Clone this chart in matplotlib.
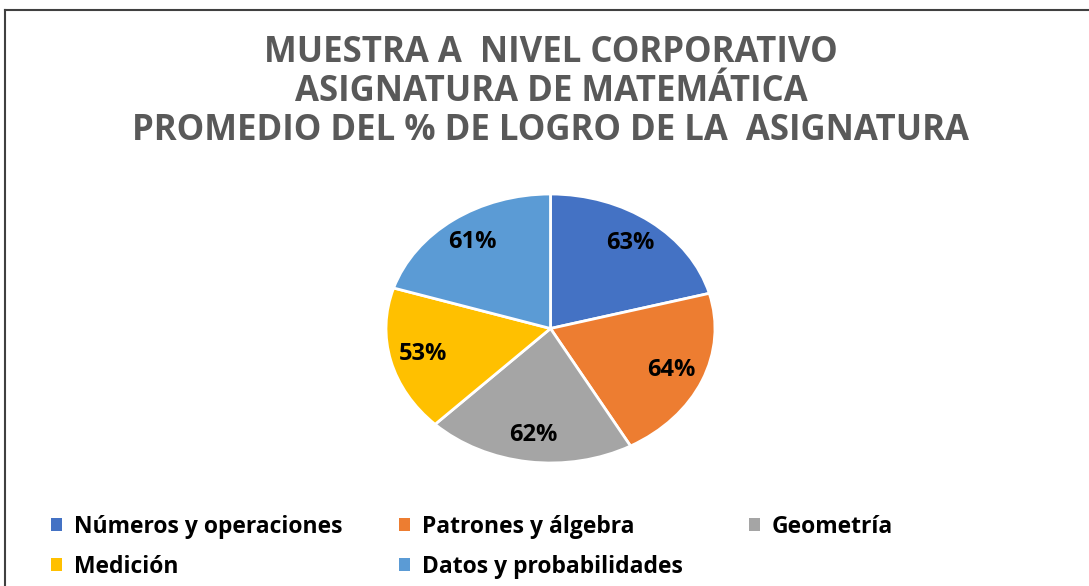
import matplotlib.pyplot as plt
from matplotlib.lines import Line2D

categories = [
    "Números y operaciones",
    "Patrones y álgebra",
    "Geometría",
    "Medición",
    "Datos y probabilidades",
]
logro = [63, 64, 62, 53, 61]
colores = ["#4472C4", "#ED7D31", "#A5A5A5", "#FFC000", "#5B9BD5"]

titulo = (
    "MUESTRA A  NIVEL CORPORATIVO\n"
    "ASIGNATURA DE MATEMÁTICA\n"
    "PROMEDIO DEL % DE LOGRO DE LA  ASIGNATURA"
)

W, H = 1089, 586
fig = plt.figure(figsize=(W / 100, H / 100), dpi=100)
fig.patch.set_facecolor("white")

# marco (solo izquierda y arriba visibles)
fig.add_artist(Line2D([5 / W, 5 / W], [0, 1 - 10 / H], color="#404040", lw=1.5,
                      transform=fig.transFigure))
fig.add_artist(Line2D([5 / W, 1], [1 - 10 / H, 1 - 10 / H], color="#404040", lw=1.5,
                      transform=fig.transFigure))

fig.text(551 / W, 1 - 92 / H, titulo, ha="center", va="center",
         fontsize=25, fontweight="bold", color="#595959",
         family="Open Sans", linespacing=1.12)

# pastel algo achatado, como en el original
left, right, top, bottom = 386, 715, 194, 463
ax = fig.add_axes([left / W, 1 - bottom / H, (right - left) / W, (bottom - top) / H])
total = sum(logro)
wedges, texts, autotexts = ax.pie(
    logro,
    colors=colores,
    startangle=90,
    counterclock=False,
    autopct=lambda p: f"{p * total / 100:.0f}%",
    pctdistance=0.8,
    wedgeprops=dict(edgecolor="white", linewidth=2),
    textprops=dict(fontsize=17, fontweight="bold", color="black", family="Open Sans"),
)
ax.set_aspect("auto")
ax.set_xlim(-1, 1)
ax.set_ylim(-1, 1)
for w in wedges:
    w.set_clip_on(False)

# leyenda: una columna por bloque, para fijar cada x como en el original
columnas = [([0, 3], 51), ([1, 4], 399), ([2], 749)]
for idx, x in columnas:
    leg = fig.legend(
        [wedges[i] for i in idx],
        [categories[i] for i in idx],
        loc="upper left",
        bbox_to_anchor=(x / W, 1 - 515 / H),
        frameon=False,
        handlelength=0.5,
        handleheight=0.5,
        handletextpad=0.5,
        labelspacing=0.7,
        borderaxespad=0,
        borderpad=0,
        prop=dict(size=16.5, weight="bold", family="Open Sans"),
    )
    for h in leg.legend_handles:
        h.set_edgecolor("none")

fig.savefig("out.png", dpi=100)
